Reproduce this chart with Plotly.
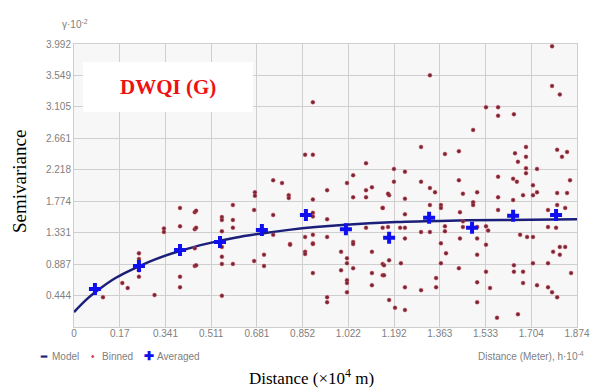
import plotly.graph_objects as go

# ---- data (distance in 10^4 m, semivariance in 10^-2) ----
x_ticks = [0, 0.1704, 0.3407, 0.5111, 0.6815, 0.8518, 1.0222, 1.1925, 1.3629, 1.5333, 1.7036, 1.874]
x_tick_labels = ["0", "0.17", "0.341", "0.511", "0.681", "0.852", "1.022", "1.192", "1.363", "1.533", "1.704", "1.874"]
y_ticks = [0, 0.4436, 0.8871, 1.3307, 1.7742, 2.2178, 2.6613, 3.1049, 3.5484, 3.992]
y_tick_labels = ["", "0.444", "0.887", "1.331", "1.774", "2.218", "2.661", "3.105", "3.549", "3.992"]

model_x = [0, 0.05, 0.1, 0.15, 0.2, 0.3, 0.4, 0.5, 0.6, 0.7, 0.8, 0.9, 1.0, 1.2, 1.4, 1.6, 1.874]
model_y = [0.21, 0.40, 0.55, 0.68, 0.78, 0.95, 1.08, 1.18, 1.26, 1.32, 1.37, 1.41, 1.44, 1.48, 1.50, 1.51, 1.52]

avg_x = [0.078, 0.242, 0.395, 0.544, 0.700, 0.864, 1.013, 1.174, 1.323, 1.483, 1.636, 1.796]
avg_y = [0.536, 0.86, 1.086, 1.20, 1.37, 1.58, 1.38, 1.26, 1.54, 1.40, 1.57, 1.58]

binned_x = [
    0.108, 0.242, 0.242, 0.242, 0.242, 0.395, 0.395, 0.395, 0.395, 0.335, 0.335,
    0.45, 0.45, 0.45, 0.45,
    0.861, 0.89, 1.088, 1.04, 0.742, 0.775, 1.017, 1.11, 0.943, 1.088, 0.674, 0.674,
    0.80, 0.80, 1.04, 1.088, 1.174, 0.89, 0.592, 0.455, 0.671, 1.15, 0.551, 0.551,
    0.742, 0.89, 0.89, 0.592, 0.943, 0.455, 0.592, 0.551, 1.088, 1.15, 0.742,
    0.861, 0.89, 0.943, 1.04, 0.89, 0.805,
    0.551, 0.551, 0.551, 0.551, 0.592, 0.455, 0.671, 0.708, 0.708, 0.805, 0.861, 0.861,
    0.89, 0.89, 0.943, 0.995, 0.995, 1.017, 1.017, 1.017, 1.017, 1.017, 1.04, 1.04,
    1.11, 1.11, 1.11, 1.15, 1.15,
    1.174, 1.196, 1.233, 1.155, 1.155, 1.174, 1.218, 1.233, 1.293, 1.349, 1.349,
    1.367, 1.367, 1.386, 1.434, 1.502, 1.502, 1.502, 1.535, 1.55, 1.576, 1.535,
    1.639, 1.639, 1.673, 1.673, 1.654, 1.71, 1.725, 1.766, 1.766, 1.781, 1.80,
    1.785, 1.81, 1.81, 1.852,
    1.487, 1.293, 1.382, 1.434, 1.192, 1.233, 1.192, 1.293, 1.434, 1.326, 1.345,
    1.17, 1.233, 1.449, 1.502, 1.487, 1.487, 1.367, 1.367, 1.326, 1.15, 1.233,
    1.438, 1.449, 1.17, 1.215, 1.233, 1.293, 1.326, 1.382, 1.382, 1.449, 1.502,
    1.535, 1.543, 1.233, 1.438, 1.502, 1.58, 1.58, 1.58, 1.643, 1.654, 1.684,
    1.684, 1.684, 1.684, 1.725, 1.636, 1.65, 1.71, 1.725, 1.71, 1.636, 1.673,
    1.80, 1.818, 1.837, 1.848, 1.80, 1.837, 1.80, 1.83, 1.766, 1.766, 1.796,
    1.662, 1.688, 1.71, 1.83,
    1.781, 1.326, 1.781, 1.81, 1.535, 1.58, 1.58, 1.639, 0.89,
    0.943, 0.18, 0.20, 0.30,
]
binned_y = [
    0.42, 1.04, 0.96, 0.80, 0.71, 1.42, 1.68, 0.71, 0.56, 1.39, 1.34,
    1.62, 1.38, 1.11, 0.86,
    2.43, 2.43, 2.31, 2.14, 2.07, 2.03, 2.03, 1.97, 1.93, 1.93, 1.90, 1.85,
    1.86, 1.82, 1.83, 1.83, 1.86, 1.80, 1.72, 1.64, 1.65, 1.68, 1.55, 1.51,
    1.58, 1.61, 1.56, 1.51, 1.52, 1.40, 1.40, 1.35, 1.40, 1.40, 1.30,
    1.27, 1.30, 1.27, 1.20, 1.18, 1.17,
    1.13, 0.99, 0.89, 0.44, 0.89, 0.87, 0.93, 1.02, 0.86, 1.16, 1.06, 1.03,
    1.17, 0.76, 0.35, 1.06, 0.80, 0.97, 0.90, 0.66, 0.62, 0.49, 1.17, 0.83,
    1.06, 0.76, 0.59, 0.89, 0.73,
    0.38, 0.27, 0.24, 0.73, 0.87, 0.94, 0.90, 0.56, 0.52, 0.69, 0.56,
    0.90, 1.18, 1.04, 0.83, 1.02, 0.63, 0.35, 0.78, 0.55, 0.13, 1.16,
    0.87, 0.78, 0.78, 0.62, 0.18, 0.90, 0.59, 0.90, 0.56, 0.49, 0.42,
    1.06, 1.13, 1.02, 0.76,
    2.78, 2.54, 2.44, 2.48, 2.23, 2.19, 2.05, 2.05, 2.07, 1.96, 1.90,
    1.88, 1.81, 1.88, 1.90, 1.76, 1.72, 1.72, 1.68, 1.72, 1.68, 1.59,
    1.62, 1.49, 1.41, 1.40, 1.40, 1.34, 1.34, 1.42, 1.35, 1.41, 1.41,
    1.42, 1.36, 1.25, 1.25, 1.25, 1.65, 1.83, 2.12, 2.45, 2.33, 2.54,
    2.40, 2.24, 2.17, 2.23, 2.09, 2.05, 2.00, 1.90, 1.86, 1.79, 1.86,
    2.50, 2.40, 2.47, 2.07, 1.89, 1.89, 1.72, 1.68, 1.65, 1.41, 1.40,
    1.30, 1.27, 1.27, 1.13,
    3.96, 3.55, 3.40, 3.28, 3.10, 3.10, 2.98, 3.00, 3.17,
    0.42, 0.62, 0.55, 0.45,
]

MODEL_COLOR = "#1b1f7a"
BIN_COLOR = "#6e2a3a"
AVG_COLOR = "#1010ee"

fig = go.Figure()

fig.add_trace(go.Scatter(
    x=model_x, y=model_y, mode="lines", name="Model",
    line=dict(color=MODEL_COLOR, width=2.5, shape="spline"),
))
fig.add_trace(go.Scatter(
    x=binned_x, y=binned_y, mode="markers", name="Binned",
    marker=dict(color=BIN_COLOR, size=4, line=dict(color="rgba(240,80,90,0.45)", width=1)),
))
fig.add_trace(go.Scatter(
    x=avg_x, y=avg_y, mode="markers", name="Averaged",
    marker=dict(color=AVG_COLOR, size=10, symbol="cross"),
))

SANS = "Liberation Sans, Arial, sans-serif"
SERIF = "Liberation Serif, Times New Roman, serif"
axis_font = dict(family=SANS, size=10, color="#808080")

# full-window figure; plot area at x 74-577, y 44-327
fig.update_layout(
    width=590, height=389,
    margin=dict(l=74, r=13, t=44, b=62, autoexpand=False),
    paper_bgcolor="white",
    plot_bgcolor="#f7f7f7",
    showlegend=False,
    xaxis=dict(
        range=[0, 1.874], tickvals=x_ticks, ticktext=x_tick_labels,
        showgrid=True, gridcolor="#cfcfcf", gridwidth=1,
        zeroline=False, showline=True, linecolor="#cfcfcf", mirror=True,
        tickfont=axis_font, ticks="", ticklabelstandoff=-3, automargin=False,
        ticklabeloverflow="allow",
    ),
    yaxis=dict(
        range=[0, 3.992], tickvals=y_ticks, ticktext=y_tick_labels,
        showgrid=True, gridcolor="#cfcfcf", gridwidth=1,
        zeroline=False, showline=True, linecolor="#cfcfcf", mirror=True,
        tickfont=axis_font, ticks="", automargin=False,
    ),
)

def px(xp):
    return (xp - 74) / 503.0

def py(yp):
    return (327 - yp) / 283.0

# y-axis title
fig.add_annotation(
    xref="paper", yref="paper", x=px(19), y=py(182), xanchor="center", yanchor="middle",
    text="Semivariance", textangle=-90, showarrow=False,
    font=dict(family=SERIF, size=19, color="black"),
)
# x-axis title
fig.add_annotation(
    xref="paper", yref="paper", x=px(311), y=py(377), xanchor="center", yanchor="middle",
    text="Distance (×10<sup>4</sup> m)", showarrow=False,
    font=dict(family=SERIF, size=17, color="black"),
)
# unit label top-left
fig.add_annotation(
    xref="paper", yref="paper", x=px(75), y=py(24), xanchor="center", yanchor="middle",
    text="γ·10<sup>-2</sup>", showarrow=False,
    font=dict(family=SANS, size=10, color="#808080"),
)
# distance unit label bottom-right
fig.add_annotation(
    xref="paper", yref="paper", x=px(586), y=py(356), xanchor="right", yanchor="middle",
    text="Distance (Meter), h·10<sup>-4</sup>", showarrow=False,
    font=dict(family=SANS, size=10, color="#808080"),
)

# legend drawn as text items
legend_items = [
    (38, "<b>━</b>", MODEL_COLOR, 10),
    (50, "Model", "#808080", 10),
    (89, "•", "#d04050", 10),
    (100, "Binned", "#808080", 10),
    (142, "<b>✚</b>", AVG_COLOR, 12),
    (155, "Averaged", "#808080", 10),
]
for xpos, txt, col, fs in legend_items:
    fig.add_annotation(
        xref="paper", yref="paper", x=px(xpos), y=py(356), xanchor="left", yanchor="middle",
        text=txt, showarrow=False, font=dict(family=SANS, size=fs, color=col),
    )

# white title box
fig.add_shape(
    type="rect", xref="paper", yref="paper", x0=px(83), x1=px(253), y0=py(112), y1=py(62),
    fillcolor="white", line=dict(width=0), layer="above",
)
fig.add_annotation(
    xref="paper", yref="paper", x=px(168), y=py(87), xanchor="center", yanchor="middle",
    text="<b>DWQI (G)</b>", showarrow=False,
    font=dict(family=SERIF, size=21, color="#ee1111"),
)

fig.write_html(
    "out.html",
    config={"displayModeBar": False},
    post_script="document.documentElement.style.overflow='hidden';"
                "document.body.style.margin='0';document.body.style.overflow='hidden';",
)
